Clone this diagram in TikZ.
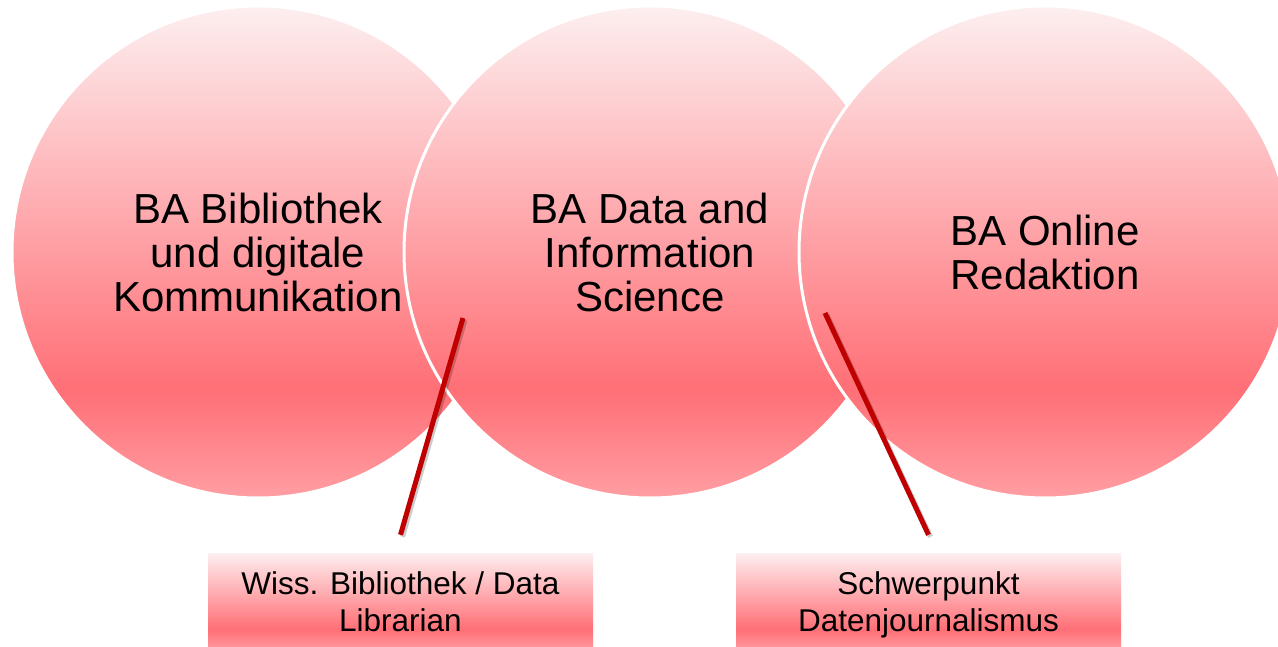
\documentclass[tikz,border=0pt]{standalone}
\usepackage{fontspec}
\setmainfont{Liberation Sans}
\usepackage{tikz}
\definecolor{ballTop}{HTML}{FDEFF0}
\definecolor{ballDark}{HTML}{FF6F76}
\definecolor{ballBot}{HTML}{FF9EA3}
\definecolor{pinRed}{HTML}{C00000}
\pgfdeclareverticalshading{ballfade}{100bp}{color(0bp)=(ballBot); color(25bp)=(ballBot); color(36bp)=(ballDark); color(75bp)=(ballTop); color(100bp)=(ballTop)}
\tikzset{
    ball/.style={circle, minimum size=492pt, inner sep=0pt, shade, shading=ballfade, draw=white, line width=3pt, align=center, font=\fontsize{42}{44}\selectfont},
    tag/.style={minimum width=385pt, minimum height=98pt, inner sep=0pt, text depth=0pt, shade, shading=ballfade, align=center, font=\fontsize{31.5}{37}\selectfont},
    pin/.style={pinRed, line width=5pt, preaction={draw=black, opacity=.2, line width=5pt, transform canvas={shift={(2pt,-2pt)}}}}
}

\begin{document}
\begin{tikzpicture}[x=1pt, y=1pt]
    \useasboundingbox(0, 0)rectangle(1278, 646);
    \clip(0, 0)rectangle(1278, 646);
    \node[ball](bib)at(258, 394){BA Bibliothek\\und digitale\\Kommunikation};
    \node[ball](dis)at(650, 394){BA Data and\\Information\\Science};
    \node[ball](onl)at(1045, 394){BA Online\\Redaktion};
    \node[tag](wiss)at(400.5, 44){Wiss. Bibliothek / Data\\Librarian};
    \node[tag](djour)at(928.5, 44){Schwerpunkt\\Datenjournalismus};
    % Zuordnung der Schwerpunkte
    \coordinate(bibdis)at(463, 328);
    \coordinate(disonl)at(825, 333);
    \draw[pin](wiss.north)++(0, 18)--(bibdis);
    \draw[pin](djour.north)++(0, 18)--(disonl);
\end{tikzpicture}
\end{document}
